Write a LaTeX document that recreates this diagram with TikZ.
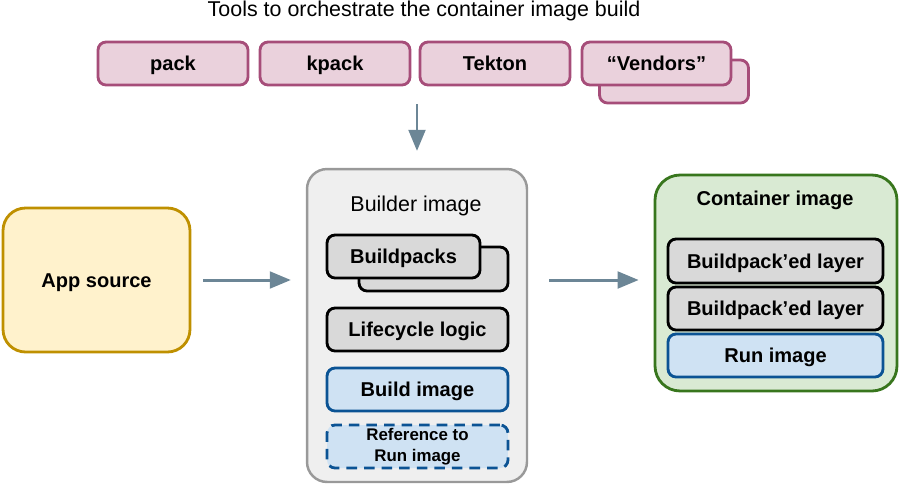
\documentclass[tikz,border=0pt]{standalone}
\usepackage{fontspec}
\setmainfont{Liberation Sans}
\usetikzlibrary{arrows.meta}

\definecolor{pinkfill}{HTML}{EAD1DC}
\definecolor{pinkline}{HTML}{A64D79}
\definecolor{grayfill}{HTML}{D9D9D9}
\definecolor{bluefill}{HTML}{CFE2F3}
\definecolor{blueline}{HTML}{0B5394}
\definecolor{yellowfill}{HTML}{FFF2CC}
\definecolor{yellowline}{HTML}{BF9000}
\definecolor{greenfill}{HTML}{D9EAD3}
\definecolor{greenline}{HTML}{38761D}
\definecolor{builderfill}{HTML}{EFEFEF}
\definecolor{builderline}{HTML}{999999}
\definecolor{arrowcol}{HTML}{6C8696}

\begin{document}
\begin{tikzpicture}[x=0.02cm,y=-0.02cm,
    txt/.style={font=\fontsize{12.2}{14}\selectfont},
    box/.style={draw,rounded corners=0.16cm,line width=1.6pt,inner sep=0pt,
        font=\bfseries\fontsize{11.4}{13.5}\selectfont,align=center,
        text height=8.2pt,text depth=0pt},
    tool/.style={box,draw=pinkline,fill=pinkfill,minimum width=3cm,minimum height=0.86cm},
    part/.style={box,draw=black,fill=grayfill,minimum height=0.86cm},
    img/.style={box,draw=blueline,fill=bluefill,minimum height=0.86cm},
    arr/.style={draw=arrowcol,line width=1.7pt,-{Triangle[length=12pt,width=9.5pt]}}]
    \useasboundingbox (0,0) rectangle (900,485);

    % tools on top
    \node[txt] (title) at (424,11) {Tools to orchestrate the container image build};
    \node[tool] (pack) at (173,63.5) {pack};
    \node[tool] (kpack) at (335,63.5) {kpack};
    \node[tool] (tekton) at (495,63.5) {Tekton};
    \node[tool,minimum width=2.98cm] (vback) at (674,81.5) {};
    \node[tool,minimum width=2.98cm] (vendors) at (656.5,63.5) {``Vendors''};

    % app source
    \node[box,draw=yellowline,fill=yellowfill,rounded corners=0.45cm,
        minimum width=3.74cm,minimum height=2.88cm] (app) at (96.5,280) {App source};

    % builder image
    \node[draw=builderline,fill=builderfill,line width=1.4pt,rounded corners=0.4cm,
        minimum width=4.4cm,minimum height=6.26cm] (builder) at (417,325.5) {};
    \node[txt] (builderlbl) at (416,206) {Builder image};
    \node[part,minimum width=2.98cm,minimum height=0.88cm] (bpback) at (433.5,269) {};
    \node[part,minimum width=3.06cm] (bp) at (403.5,256.5) {Buildpacks};
    \node[part,minimum width=3.62cm] (lifecycle) at (417.5,329.5) {Lifecycle logic};
    \node[img,minimum width=3.62cm] (buildimg) at (417.5,389.5) {Build image};
    \node[img,dashed,dash pattern=on 6pt off 4pt,minimum width=3.62cm,
        font=\bfseries\fontsize{9.6}{12}\selectfont,
        text height={},text depth={}] (refrun) at (417.5,446.5) {Reference to\\Run image};

    % container image
    \node[draw=greenline,fill=greenfill,line width=1.6pt,rounded corners=0.5cm,
        minimum width=4.84cm,minimum height=4.32cm] (container) at (776,283) {};
    \node[txt,font=\bfseries\fontsize{11.4}{13.5}\selectfont] (containerlbl) at (775,200) {Container image};
    \node[part,minimum width=4.3cm,minimum height=0.88cm] (layera) at (775.5,261) {Buildpack'ed layer};
    \node[part,minimum width=4.3cm] (layerb) at (775.5,308.5) {Buildpack'ed layer};
    \node[img,minimum width=4.3cm] (runimg) at (775.5,355.5) {Run image};

    \draw[arr,shorten >=9.6pt] (builder.north |- vback.south) to (builder.north);
    \draw[arr,shorten <=6.8pt,shorten >=8.5pt] (app.east) to (app.east -| builder.west);
    \draw[arr,shorten <=11.9pt,shorten >=8.5pt] (app.east -| builder.east) to (app.east -| container.west);
\end{tikzpicture}
\end{document}
